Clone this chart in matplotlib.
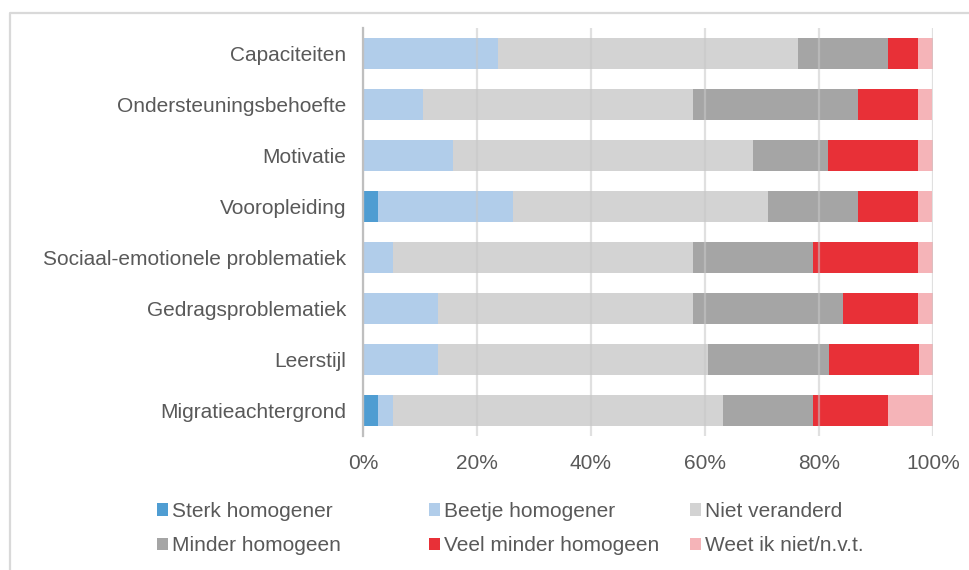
import matplotlib.pyplot as plt
from matplotlib.lines import Line2D
from matplotlib.ticker import PercentFormatter

plt.rcParams['font.family'] = ['Liberation Sans', 'DejaVu Sans']

# categories, top to bottom
categories = ['Capaciteiten', 'Ondersteuningsbehoefte', 'Motivatie', 'Vooropleiding',
              'Sociaal-emotionele problematiek', 'Gedragsproblematiek', 'Leerstijl',
              'Migratieachtergrond']

series_names = ['Sterk homogener', 'Beetje homogener', 'Niet veranderd',
                'Minder homogeen', 'Veel minder homogeen', 'Weet ik niet/n.v.t.']

# percentages per category (same order as categories)
sterk = [0.0, 0.0, 0.0, 2.6, 0.0, 0.0, 0.0, 2.6]
beetje = [23.7, 10.5, 15.8, 23.7, 5.3, 13.2, 13.2, 2.6]
niet = [52.6, 47.4, 52.6, 44.7, 52.6, 44.7, 47.4, 57.9]
minder = [15.8, 28.9, 13.2, 15.8, 21.1, 26.3, 21.1, 15.8]
veel = [5.3, 10.5, 15.8, 10.5, 18.4, 13.2, 15.8, 13.2]
weet = [2.6, 2.6, 2.6, 2.6, 2.6, 2.6, 2.6, 7.9]

colors = ['#4F9DD2', '#B1CDEA', '#D3D3D3', '#A5A5A5', '#E83037', '#F5B4B8']
FS = 15

fig = plt.figure(figsize=(9.69, 5.70), dpi=100)
ax = fig.add_axes([363 / 969, 1 - 436 / 570, 570 / 969, 408 / 570])

y = list(range(len(categories)))
left = [0.0] * len(categories)
handles = []
for name, vals, col in zip(series_names, [sterk, beetje, niet, minder, veel, weet], colors):
    b = ax.barh(y, vals, left=left, height=0.61, color=col, label=name, zorder=2)
    handles.append(b)
    left = [l + v for l, v in zip(left, vals)]

ax.set_xlim(0, 100)
ax.set_ylim(len(categories) - 0.5, -0.5)
ax.set_yticks(y)
ax.set_yticklabels(categories)
ax.set_xticks([0, 20, 40, 60, 80, 100])
ax.xaxis.set_major_formatter(PercentFormatter(decimals=0))
ax.tick_params(axis='both', length=0, labelsize=FS, colors='#595959')
ax.tick_params(axis='y', pad=12)
ax.tick_params(axis='x', pad=13)

ax.grid(axis='x', color='#C8C8C8', linewidth=1.6, alpha=0.55, zorder=3)
ax.set_axisbelow(False)
for s in ['top', 'right', 'bottom']:
    ax.spines[s].set_visible(False)
ax.spines['left'].set_color('#BFBFBF')
ax.spines['left'].set_linewidth(1.6)
ax.spines['left'].set_zorder(4)

# legend: 2 rows x 3 columns, row-major, fixed column positions
col_x = [157, 429, 690]
for i, x0 in enumerate(col_x):
    hs = [handles[i], handles[i + 3]]
    fig.legend(hs, [series_names[i], series_names[i + 3]], loc='upper left',
               bbox_to_anchor=(x0 / 969, 1 - 502 / 570), ncol=1,
               frameon=False, fontsize=FS, labelcolor='#595959',
               handlelength=0.55, handleheight=0.55, handletextpad=0.15,
               labelspacing=0.74, borderaxespad=0, borderpad=0)

# light frame around the chart area (top and left visible)
fig.add_artist(Line2D([9.5 / 969, 9.5 / 969, 1], [0, 1 - 12.5 / 570, 1 - 12.5 / 570],
                      transform=fig.transFigure, color='#D9D9D9', linewidth=1.6))

fig.savefig('out.png', dpi=100)
